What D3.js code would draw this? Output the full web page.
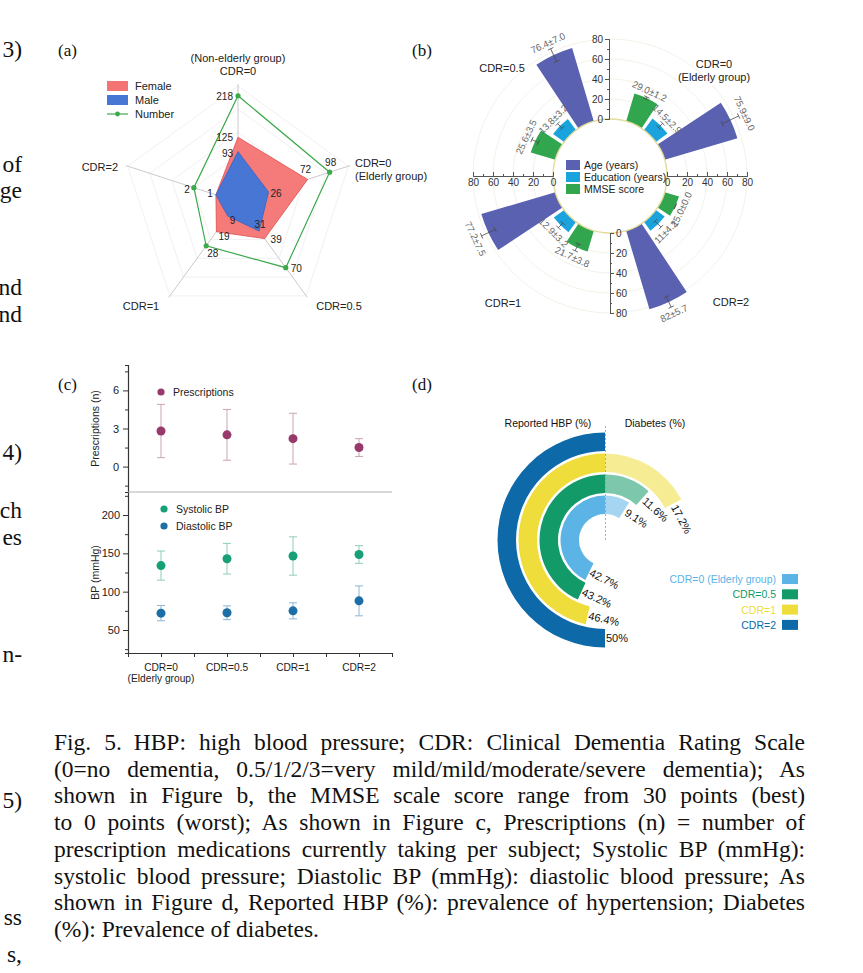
<!DOCTYPE html>
<html><head><meta charset="utf-8">
<script src="https://cdn.jsdelivr.net/npm/d3@7"></script>
<style>
body{margin:0;background:#fff;}
svg{display:block;}
.sans{font-family:"Liberation Sans",Arial,sans-serif;}
.serif{font-family:"Liberation Serif","Times New Roman",serif;}
</style></head><body>
<svg id="fig" width="863" height="973"></svg>
<script>
// ================= DATA =================
// (a) radar: number of subjects by group
const radarAxes = ["(Non-elderly group)|CDR=0", "CDR=0|(Elderly group)", "CDR=0.5", "CDR=1", "CDR=2"];
const radarDomains = [[-20,240],[-10,120],[0,100],[0,60],[0,5]];
const femaleCount = [125, 72, 39, 19, 1];
const maleCount   = [93, 26, 31, 9, 1];
const totalCount  = [218, 98, 70, 28, 2];
const radarLegend = ["Female", "Male", "Number"];

// (b) polar bars (groups clockwise from upper right)
const polarGroups = ["CDR=0|(Elderly group)", "CDR=2", "CDR=1", "CDR=0.5"];
const polarSeries = ["MMSE score", "Education (years)", "Age (years)"];
const mmseMean = [29.0, 15.0, 21.7, 25.6];
const mmseSD   = [1.2, 0.0, 3.8, 3.5];
const eduMean  = [14.5, 11, 12.9, 13.8];
const eduSD    = [2.9, 4.2, 3.2, 3.2];
const ageMean  = [75.9, 82, 77.2, 76.4];
const ageSD    = [9.0, 5.7, 7.5, 7.0];
const mmseLabels = ["29.0±1.2", "15.0±0.0", "21.7±3.8", "25.6±3.5"];
const eduLabels  = ["14.5±2.9", "11±4.2", "12.9±3.2", "13.8±3.2"];
const ageLabels  = ["75.9±9.0", "82±5.7", "77.2±7.5", "76.4±7.0"];
const polarLegend = ["Age (years)", "Education (years)", "MMSE score"];
const polarTicks = [0, 20, 40, 60, 80];

// (c) prescriptions and blood pressure
const cCategories = ["CDR=0|(Elderly group)", "CDR=0.5", "CDR=1", "CDR=2"];
const prescMean = [2.8, 2.5, 2.2, 1.5];
const prescSD   = [2.1, 2.0, 2.0, 0.7];
const sysMean = [134, 143, 146.5, 148.5];
const sysSD   = [19, 20, 25, 11.5];
const diaMean = [72, 72.5, 75, 88];
const diaSD   = [10, 9, 10.5, 19.5];
const prescTicks = [0, 3, 6];
const bpTicks = [50, 100, 150, 200];
const cLegend = ["Prescriptions", "Systolic BP", "Diastolic BP"];

// (d) prevalence rings
const dGroups = ["CDR=0 (Elderly group)", "CDR=0.5", "CDR=1", "CDR=2"];
const hbpPct = [42.7, 43.2, 46.4, 50];
const diabetesPct = [9.1, 11.6, 17.2, 0];
const dTitles = ["Reported HBP (%)", "Diabetes (%)"];

// caption and cut-off text of the neighbouring column
const captionLines = [
  "Fig. 5.\u2002HBP: high blood pressure; CDR: Clinical Dementia Rating Scale",
  "(0=no dementia, 0.5/1/2/3=very mild/mild/moderate/severe dementia); As",
  "shown in Figure b, the MMSE scale score range from 30 points (best)",
  "to 0 points (worst); As shown in Figure c, Prescriptions (n) = number of",
  "prescription medications currently taking per subject; Systolic BP (mmHg):",
  "systolic blood pressure; Diastolic BP (mmHg): diastolic blood pressure; As",
  "shown in Figure d, Reported HBP (%): prevalence of hypertension; Diabetes",
  "(%): Prevalence of diabetes."
];
const marginFragments = ["3)", "of", "ge", "nd", "nd", "4)", "ch", "es", "n-", "5)", "ss", "s,"];

// ================= DRAW =================
const svg = d3.select("#fig");
svg.append("rect").attr("width", 863).attr("height", 973).attr("fill", "#fff");
const toRad = d => d * Math.PI / 180;

// panel letters
const letterPos = [[58,56],[412,56],[58,390],[412,390]];
["(a)","(b)","(c)","(d)"].forEach((t,i)=>{
  svg.append("text").attr("class","serif").attr("x",letterPos[i][0]).attr("y",letterPos[i][1])
    .attr("font-size",17).attr("fill","#111").text(t);
});

// ---------- (a) radar ----------
{
  const A = {cx: 238, cy: 202, R: 116};
  const g = svg.append("g").attr("class","sans");
  const n = radarAxes.length;
  const ang = i => i * 2 * Math.PI / n;
  const rS = radarDomains.map(d => d3.scaleLinear().domain(d).range([0, A.R]));
  const P = (i, r) => [A.cx + r * Math.sin(ang(i)), A.cy - r * Math.cos(ang(i))];
  const pt = (i, v) => P(i, rS[i](v));
  const closed = d3.line().curve(d3.curveLinearClosed);

  [0.2,0.4,0.6,0.8,1].forEach(f => {
    g.append("path").attr("d", closed(d3.range(n).map(i => P(i, A.R*f))))
      .attr("fill","none").attr("stroke","#ececec").attr("stroke-width",0.8);
  });
  d3.range(n).forEach(i => {
    const e = P(i, A.R + 2);
    g.append("line").attr("x1",A.cx).attr("y1",A.cy).attr("x2",e[0]).attr("y2",e[1])
      .attr("stroke","#c4c4c4").attr("stroke-width",0.9);
  });

  g.append("path").attr("d", closed(femaleCount.map((v,i)=>pt(i,v))))
    .attr("fill","#f47474").attr("fill-opacity",0.95).attr("stroke","#e04a4a").attr("stroke-width",0.8);
  g.append("path").attr("d", closed(maleCount.map((v,i)=>pt(i,v))))
    .attr("fill","#4876d4").attr("stroke","#3862c2").attr("stroke-width",0.8);
  g.append("path").attr("d", closed(totalCount.map((v,i)=>pt(i,v))))
    .attr("fill","none").attr("stroke","#3ca94b").attr("stroke-width",1.2);
  g.selectAll("circle.num").data(totalCount).join("circle")
    .attr("cx",(v,i)=>pt(i,v)[0]).attr("cy",(v,i)=>pt(i,v)[1]).attr("r",2.6).attr("fill","#3ca94b");

  // value labels (offsets per series/axis)
  const lab = (arr, offs) => arr.forEach((v,i)=>{
    const o = offs[i];
    if (!o) return;
    const p = pt(i,v);
    g.append("text").attr("x",p[0]+o[0]).attr("y",p[1]+o[1]).attr("text-anchor",o[2])
      .attr("font-size",10).attr("fill","#222").text(v);
  });
  lab(totalCount, [[-5,4,"end"],[1,-6,"middle"],[5,4,"start"],[1,11,"start"],[-4,5,"end"]]);
  lab(femaleCount,[[-5,4,"end"],[-2,-6,"middle"],[6,4,"start"],[2,8,"start"],[-3,2,"end"]]);
  lab(maleCount,  [[-5,5,"end"],[2,5,"start"],[1,-3,"middle"],[2,8,"start"],null]);

  // axis labels
  const axLab = [
    {x:A.cx, y:[62,75], a:"middle"},
    {x:355, y:[167,180], a:"start"},
    {x:339, y:[310], a:"middle"},
    {x:141, y:[310], a:"middle"},
    {x:118, y:[171], a:"end"}
  ];
  radarAxes.forEach((t,i)=>{
    t.split("|").forEach((s,k)=>{
      g.append("text").attr("x",axLab[i].x).attr("y",axLab[i].y[k]).attr("text-anchor",axLab[i].a)
        .attr("font-size",11).attr("fill","#222").text(s);
    });
  });

  // legend
  const lx = 107, ly = [86,100,114];
  g.append("rect").attr("x",lx).attr("y",ly[0]-5).attr("width",21).attr("height",10).attr("fill","#f47474");
  g.append("rect").attr("x",lx).attr("y",ly[1]-5).attr("width",21).attr("height",10).attr("fill","#4876d4");
  g.append("line").attr("x1",lx).attr("x2",lx+21).attr("y1",ly[2]).attr("y2",ly[2]).attr("stroke","#3ca94b").attr("stroke-width",1.2);
  g.append("circle").attr("cx",lx+10.5).attr("cy",ly[2]).attr("r",2.4).attr("fill","#3ca94b");
  radarLegend.forEach((t,i)=>g.append("text").attr("x",lx+28).attr("y",ly[i]+4)
    .attr("font-size",11).attr("fill","#222").text(t));
}

// ---------- (b) polar bars ----------
{
  const B = {cx: 610, cy: 176, r0: 57};
  const rB = d3.scaleLinear().domain([0, 80]).range([B.r0, B.r0 + 80]);
  const g = svg.append("g").attr("class","sans");
  g.selectAll("circle.grid").data(polarTicks.slice(1)).join("circle")
    .attr("cx",B.cx).attr("cy",B.cy).attr("r",d=>rB(d))
    .attr("fill","none").attr("stroke","#f2f1e6").attr("stroke-width",0.9);

  const means = [mmseMean, eduMean, ageMean], sds = [mmseSD, eduSD, ageSD], labs = [mmseLabels, eduLabels, ageLabels];
  const cols = ["#31a64f", "#1ba3de", "#5961b0"];
  const bars = [];
  polarGroups.forEach((grp, gi) => polarSeries.forEach((s, si) => bars.push({
    gi, si, m: means[si][gi], sd: sds[si][gi], lab: labs[si][gi], ang: 45 + 90*gi + (si-1)*20
  })));
  const arc = d3.arc();
  const gb = g.append("g").attr("transform",`translate(${B.cx},${B.cy})`);
  gb.selectAll("path").data(bars).join("path")
    .attr("d", d => arc({innerRadius: rB(0), outerRadius: rB(d.m), startAngle: toRad(d.ang-8.5), endAngle: toRad(d.ang+8.5)}))
    .attr("fill", d => cols[d.si]);

  bars.forEach(d => {
    const a = toRad(d.ang), ux = Math.sin(a), uy = -Math.cos(a), px = Math.cos(a), py = Math.sin(a);
    const r1 = rB(d.m - d.sd), r2 = rB(d.m + d.sd);
    const seg = (x1,y1,x2,y2) => gb.append("line").attr("x1",x1).attr("y1",y1).attr("x2",x2).attr("y2",y2)
      .attr("stroke","#4a4a4a").attr("stroke-width",0.8);
    seg(ux*r1, uy*r1, ux*r2, uy*r2);
    [r1, r2].forEach(r => seg(ux*r - px*3, uy*r - py*3, ux*r + px*3, uy*r + py*3));
    const rl = r2 + 3;
    const top = d.ang < 90 || d.ang > 270;
    const rot = top ? (d.ang > 270 ? d.ang - 360 : d.ang) : d.ang - 180;
    gb.append("text").attr("transform",`translate(${ux*rl},${uy*rl}) rotate(${rot})`)
      .attr("text-anchor","middle").attr("dy", top ? "0" : "0.75em")
      .attr("font-size",9.5).attr("fill","#666").text(d.lab);
  });

  // centre circle
  g.append("circle").attr("cx",B.cx).attr("cy",B.cy).attr("r",B.r0).attr("fill","#fff")
    .attr("stroke","#e4dc9c").attr("stroke-width",1.4);

  // axes
  const axStyle = sel => { sel.selectAll("path,line").attr("stroke","#555"); sel.selectAll("text").attr("fill","#333").attr("font-size",10).attr("font-family","Liberation Sans, Arial, sans-serif"); };
  const minor = [10,30,50,70];
  const sTop = d3.scaleLinear().domain([0,80]).range([B.cy-B.r0, B.cy-B.r0-80]);
  const sBot = d3.scaleLinear().domain([0,80]).range([B.cy+B.r0, B.cy+B.r0+80]);
  const sLeft = d3.scaleLinear().domain([0,80]).range([B.cx-B.r0, B.cx-B.r0-80]);
  const sRight = d3.scaleLinear().domain([0,80]).range([B.cx+B.r0, B.cx+B.r0+80]);
  const addAx = (axis, tr) => g.append("g").attr("transform",tr).call(axis).call(axStyle);
  addAx(d3.axisLeft(sTop).tickValues(polarTicks).tickSizeInner(4).tickSizeOuter(0).tickPadding(2), `translate(${B.cx-1},0)`);
  addAx(d3.axisLeft(sTop).tickValues(minor).tickSize(2).tickFormat(""), `translate(${B.cx-1},0)`);
  addAx(d3.axisRight(sBot).tickValues(polarTicks).tickSizeInner(4).tickSizeOuter(0).tickPadding(2), `translate(${B.cx},0)`);
  addAx(d3.axisRight(sBot).tickValues(minor).tickSize(2).tickFormat(""), `translate(${B.cx},0)`);
  addAx(d3.axisBottom(sLeft).tickValues(polarTicks).tickSizeInner(-4).tickSizeOuter(0).tickPadding(3), `translate(0,${B.cy})`);
  addAx(d3.axisBottom(sLeft).tickValues(minor).tickSize(-2).tickFormat(""), `translate(0,${B.cy})`);
  addAx(d3.axisBottom(sRight).tickValues(polarTicks).tickSizeInner(-4).tickSizeOuter(0).tickPadding(3), `translate(0,${B.cy})`);
  addAx(d3.axisBottom(sRight).tickValues(minor).tickSize(-2).tickFormat(""), `translate(0,${B.cy})`);

  // legend in centre
  const lcol = [cols[2], cols[1], cols[0]];
  polarLegend.forEach((t,i)=>{
    const y = B.cy - 11 + i*12;
    g.append("rect").attr("x",566).attr("y",y-5).attr("width",14).attr("height",10).attr("fill",lcol[i]);
    g.append("text").attr("x",584).attr("y",y+4).attr("font-size",10.5).attr("fill","#222").text(t);
  });

  // group labels
  const gl = [{x:714,y:[68,81]},{x:731,y:[306]},{x:503,y:[307]},{x:502,y:[72]}];
  polarGroups.forEach((t,i)=>t.split("|").forEach((s,k)=>g.append("text").attr("x",gl[i].x).attr("y",gl[i].y[k])
    .attr("text-anchor","middle").attr("font-size",11).attr("fill","#222").text(s)));
}

// ---------- (c) dot plots ----------
{
  const C = {x0: 128, x1: 392, yTop: 365, ySep: 492, yBot: 653};
  const g = svg.append("g").attr("class","sans");
  const xC = d3.scaleLinear().domain([0.5, 4.5]).range([C.x0, C.x1]);
  const yP = d3.scaleLinear().domain([-2, 8]).range([C.ySep, C.yTop]);
  const yBP = d3.scaleLinear().domain([20, 230]).range([C.yBot, C.ySep]);
  const st = sel => { sel.selectAll("path,line").attr("stroke","#333"); sel.selectAll("text").attr("fill","#222").attr("font-size",11).attr("font-family","Liberation Sans, Arial, sans-serif"); };
  const addAx = (axis, tr) => g.append("g").attr("transform",tr).call(axis).call(st);

  addAx(d3.axisLeft(yP).tickValues(prescTicks).tickSizeInner(5).tickSizeOuter(0).tickPadding(4), `translate(${C.x0},0)`);
  addAx(d3.axisLeft(yP).tickValues([-1.5,1.5,4.5,7.5]).tickSize(3).tickFormat(""), `translate(${C.x0},0)`);
  addAx(d3.axisLeft(yBP).tickValues(bpTicks).tickSizeInner(5).tickSizeOuter(0).tickPadding(3), `translate(${C.x0},0)`);
  addAx(d3.axisLeft(yBP).tickValues([25,75,125,175,225]).tickSize(3).tickFormat(""), `translate(${C.x0},0)`);
  addAx(d3.axisBottom(xC).tickValues([0.5,1,1.5,2,2.5,3,3.5,4,4.5]).tickSizeInner(4).tickSizeOuter(0).tickFormat(""), `translate(0,${C.yBot})`);
  g.selectAll(".domain").attr("stroke-width",1.1);

  g.append("line").attr("x1",C.x0).attr("x2",C.x1).attr("y1",C.ySep).attr("y2",C.ySep)
    .attr("stroke","#aaa").attr("stroke-width",0.9);

  cCategories.forEach((t,i)=>t.split("|").forEach((s,k)=>g.append("text").attr("x",xC(i+1)).attr("y",671+k*11)
    .attr("text-anchor","middle").attr("font-size",10.2).attr("fill","#222").text(s)));

  g.append("text").attr("transform",`translate(99,${(yP(8)+yP(-2))/2}) rotate(-90)`).attr("text-anchor","middle")
    .attr("font-size",10.5).attr("fill","#222").text("Prescriptions (n)");
  g.append("text").attr("transform",`translate(99,${(yBP(20)+yBP(230))/2}) rotate(-90)`).attr("text-anchor","middle")
    .attr("font-size",10.5).attr("fill","#222").text("BP (mmHg)");

  const series = (mean, sd, y, col, ecol) => mean.forEach((m,i)=>{
    const x = xC(i+1);
    g.append("line").attr("x1",x).attr("x2",x).attr("y1",y(m-sd[i])).attr("y2",y(m+sd[i])).attr("stroke",ecol).attr("stroke-width",1);
    [m-sd[i], m+sd[i]].forEach(v=>g.append("line").attr("x1",x-4).attr("x2",x+4).attr("y1",y(v)).attr("y2",y(v)).attr("stroke",ecol).attr("stroke-width",1));
    g.append("circle").attr("cx",x).attr("cy",y(m)).attr("r",4.5).attr("fill",col);
  });
  series(prescMean, prescSD, yP, "#973a6b", "#c9a3b8");
  series(sysMean, sysSD, yBP, "#17a077", "#8fcdb9");
  series(diaMean, diaSD, yBP, "#1c6ea6", "#8db6d4");

  const lg = [{x:161,y:392,c:"#973a6b"},{x:164,y:509,c:"#17a077"},{x:164,y:526,c:"#1c6ea6"}];
  cLegend.forEach((t,i)=>{
    g.append("circle").attr("cx",lg[i].x).attr("cy",lg[i].y).attr("r",3.6).attr("fill",lg[i].c);
    g.append("text").attr("x",lg[i].x+12).attr("y",lg[i].y+4).attr("font-size",10.5).attr("fill","#222").text(t);
  });
}

// ---------- (d) rings ----------
{
  const D = {cx: 605, cy: 540, r0: 26, step: 21, w: 18.5};
  const g = svg.append("g").attr("class","sans");
  const cols = ["#5cb3e6", "#139a69", "#eedd3a", "#0e69a8"];
  const ang = d3.scaleLinear().domain([0, 100]).range([0, 2*Math.PI]);
  const arc = d3.arc();
  const gc = g.append("g").attr("transform",`translate(${D.cx},${D.cy})`);
  g.append("line").attr("x1",D.cx+0.5).attr("x2",D.cx+0.5).attr("y1",426).attr("y2",D.cy)
    .attr("stroke","#999").attr("stroke-width",0.8).attr("stroke-dasharray","2,2");

  dGroups.forEach((grp,i)=>{
    const ri = D.r0 + i*D.step, ro = ri + D.w, rm = (ri+ro)/2;
    // HBP counter-clockwise
    const e = -ang(hbpPct[i]);
    gc.append("path").attr("d",arc({innerRadius:ri,outerRadius:ro,startAngle:0,endAngle:e})).attr("fill",cols[i]);
    const rot = Math.atan2(-Math.sin(e), -Math.cos(e)) * 180/Math.PI;
    gc.append("text").attr("transform",`translate(${rm*Math.sin(e)},${-rm*Math.cos(e)}) rotate(${rot})`)
      .attr("x",1).attr("dy","0.35em").attr("font-size",11).attr("fill","#111").text(hbpPct[i] + "%");
    // Diabetes clockwise
    if (diabetesPct[i] > 0) {
      const f = ang(diabetesPct[i]);
      gc.append("path").attr("d",arc({innerRadius:ri,outerRadius:ro,startAngle:0,endAngle:f}))
        .attr("fill",cols[i]).attr("fill-opacity",0.55);
      gc.append("text").attr("transform",`translate(${rm*Math.sin(f)},${-rm*Math.cos(f)}) rotate(${f*180/Math.PI})`)
        .attr("x",2).attr("dy","0.35em").attr("font-size",11).attr("fill","#111").text(diabetesPct[i] + "%");
    }
  });

  g.append("text").attr("x",548).attr("y",427).attr("text-anchor","middle").attr("font-size",10.5).attr("fill","#111").text(dTitles[0]);
  g.append("text").attr("x",655).attr("y",427).attr("text-anchor","middle").attr("font-size",10.5).attr("fill","#111").text(dTitles[1]);

  dGroups.forEach((t,i)=>{
    const y = 579 + i*15.3;
    g.append("rect").attr("x",782).attr("y",y-5).attr("width",16).attr("height",10).attr("fill",cols[i]);
    g.append("text").attr("x",776).attr("y",y+4).attr("text-anchor","end").attr("font-size",10.5).attr("fill",cols[i]).text(t);
  });
}

// ---------- caption ----------
{
  const g = svg.append("g").attr("class","serif").attr("font-size",23.5).attr("fill","#111");
  const x0 = 54, target = 751;
  captionLines.forEach((t,i)=>{
    const tx = g.append("text").attr("x",x0).attr("y",750 + i*26.7).text(t);
    if (i < captionLines.length - 1) {
      const w = tx.node().getComputedTextLength();
      const n = (t.match(/ /g) || []).length;
      if (w < target) tx.attr("word-spacing", (target - w) / n);
      else tx.attr("textLength", target).attr("lengthAdjust", "spacingAndGlyphs");
    }
  });
  const my = [57, 172, 198, 295, 322, 460, 518, 545, 662, 808, 925, 962];
  marginFragments.forEach((t,i)=>g.append("text").attr("x",22).attr("y",my[i]).attr("text-anchor","end").text(t));
}
</script>
</body></html>
